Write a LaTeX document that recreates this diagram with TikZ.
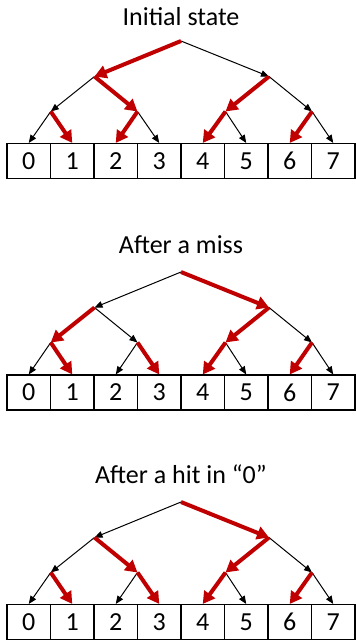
\documentclass[tikz,border=0pt]{standalone}
\usepackage{fontspec}
\setmainfont{Carlito}
\usetikzlibrary{arrows.meta}
\tikzset{
  bk/.style={draw=black, line width=1pt, -{Triangle[length=8pt,width=6.5pt]}},
  rd/.style={draw=redc, line width=4pt, -{Triangle[length=12pt,width=13pt]}},
  cell/.style={draw=black, line width=1.1pt, minimum width=43.5pt, minimum height=35pt, inner sep=0pt, font=\fontsize{26}{30}\selectfont},
  ttl/.style={anchor=base, inner sep=0pt, font=\fontsize{26}{30}\selectfont}
}
\definecolor{redc}{HTML}{C00000}
% #1 prefix, #2 root y, #3 title baseline y, #4 box top y, #5 title text
\newcommand\mytree[5]{%
  \node[ttl] (#1-t) at (181,#3) {#5};
  \coordinate (#1-r) at (181,#2);
  \coordinate (#1-a) at (94.5,#2+35.5);
  \coordinate (#1-b) at (269,#2+35.5);
  \coordinate (#1-aa) at (50.75,#2+70.5);
  \coordinate (#1-ab) at (137.5,#2+70.5);
  \coordinate (#1-ba) at (225.5,#2+70.5);
  \coordinate (#1-bb) at (312,#2+70.5);
  \foreach \i in {0,...,7}{
    \node[cell] (#1-\i) at (7+43.5*\i+21.75,#4+17.5) {\i};
  }
}
\begin{document}
\begin{tikzpicture}[x=1pt,y=-1pt]
\useasboundingbox (0,0) rectangle (356,640);
\fill[white] (0,0) rectangle (356,640);
% Panel 1
\mytree{p}{41}{25.3}{143.5}{Initial state}
\foreach \f/\t in {r/b, a/aa, b/bb, aa/0.north, ab/3.north, ba/5.north, bb/7.north}
  \draw[bk] (p-\f) -- (p-\t);
\foreach \f/\t in {r/a, a/ab, b/ba, aa/1.north, ab/2.north, ba/4.north, bb/6.north}
  \draw[rd] (p-\f) -- (p-\t);
% Panel 2
\mytree{q}{272}{253.3}{375}{After a miss}
\foreach \f/\t in {r/a, a/ab, b/bb, aa/0.north, ab/2.north, ba/5.north, bb/7.north}
  \draw[bk] (q-\f) -- (q-\t);
\foreach \f/\t in {r/b, a/aa, b/ba, aa/1.north, ab/3.north, ba/4.north, bb/6.north}
  \draw[rd] (q-\f) -- (q-\t);
% Panel 3
\mytree{s}{502}{483.3}{604.5}{After a hit in “0”}
\foreach \f/\t in {r/a, a/aa, b/bb, aa/0.north, ab/2.north, ba/5.north, bb/7.north}
  \draw[bk] (s-\f) -- (s-\t);
\foreach \f/\t in {r/b, a/ab, b/ba, aa/1.north, ab/3.north, ba/4.north, bb/6.north}
  \draw[rd] (s-\f) -- (s-\t);
\end{tikzpicture}
\end{document}
